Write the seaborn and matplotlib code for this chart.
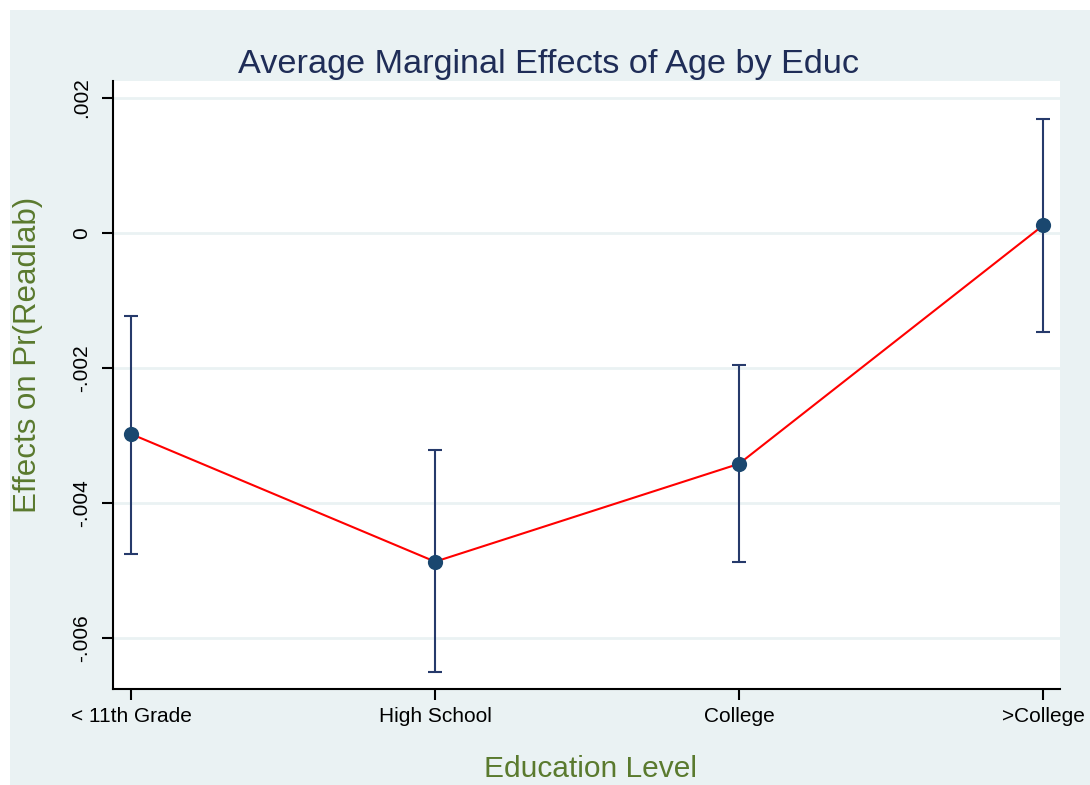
import pandas as pd
import matplotlib
matplotlib.use("Agg")
import matplotlib.pyplot as plt
import seaborn as sns
from matplotlib.patches import Rectangle

# values
edu_levels = ["< 11th Grade", "High School", "College", ">College"]
effect = [-0.00298, -0.00487, -0.00342, 0.00011]
ci_low = [-0.00476, -0.00651, -0.00487, -0.00147]
ci_high = [-0.00123, -0.00321, -0.00195, 0.00168]
y_ticks = [0.002, 0.0, -0.002, -0.004, -0.006]
y_ticklabels = [".002", "0", "-.002", "-.004", "-.006"]

df = pd.DataFrame({"edu": edu_levels, "pos": range(len(edu_levels)),
                   "effect": effect, "lo": ci_low, "hi": ci_high})

sns.set_style("white")
plt.rcParams["font.family"] = ["Liberation Sans", "DejaVu Sans"]

bg = "#EAF2F3"
navy = "#1A476F"
ci_col = "#263A6B"
green = "#5A7A2E"

fig = plt.figure(figsize=(10.9, 7.85), dpi=100)
fig.patch.set_facecolor("white")
fig.patches.append(Rectangle((10 / 1090, 0), 1, 775 / 785, transform=fig.transFigure,
                             facecolor=bg, edgecolor="none", zorder=-10))

ax = fig.add_axes([113 / 1090, 1 - 689 / 785, (1060 - 113) / 1090, (689 - 81) / 785])
ax.set_facecolor("white")

sns.lineplot(data=df, x="pos", y="effect", color="red", linewidth=1.5, sort=False,
             ax=ax, zorder=2)
ax.errorbar(df["pos"], df["effect"],
            yerr=[df["effect"] - df["lo"], df["hi"] - df["effect"]],
            fmt="none", ecolor=ci_col, elinewidth=1.5, capsize=4.8, capthick=1.5,
            zorder=3)
sns.scatterplot(data=df, x="pos", y="effect", color=navy, s=120, edgecolor=navy,
                linewidth=0, ax=ax, zorder=4)

ax.set_xlim(-0.06, 3.056)
ax.set_ylim(-0.006756, 0.00225)
ax.set_yticks(y_ticks)
ax.set_yticklabels(y_ticklabels, rotation=90, va="center", fontsize=15)
ax.set_xticks(df["pos"])
ax.set_xticklabels(edu_levels, fontsize=15)
ax.tick_params(axis="y", left=True, length=8, width=1.5, pad=8, color="black",
               labelcolor="black", direction="out")
ax.tick_params(axis="x", bottom=True, length=8, width=1.5, pad=5, color="black",
               labelcolor="black", direction="out")
ax.grid(axis="y", color=bg, linewidth=2)
ax.set_axisbelow(True)
for side in ["top", "right"]:
    ax.spines[side].set_visible(False)
for side in ["left", "bottom"]:
    ax.spines[side].set_color("black")
    ax.spines[side].set_linewidth(1.5)
ax.set_xlabel("")
ax.set_ylabel("")

fig.text(548 / 1090, 1 - 73 / 785, "Average Marginal Effects of Age by Educ",
         ha="center", va="baseline", fontsize=24.7, color="#1F2D57")
fig.text(591 / 1090, 1 - 777 / 785, "Education Level", ha="center", va="baseline",
         fontsize=21.5, color=green)
fig.text(28 / 1090, 1 - 355 / 785, "Effects on Pr(Readlab)", ha="center", va="center",
         rotation=90, fontsize=22.5, color=green)

fig.savefig("out.png", dpi=100)
